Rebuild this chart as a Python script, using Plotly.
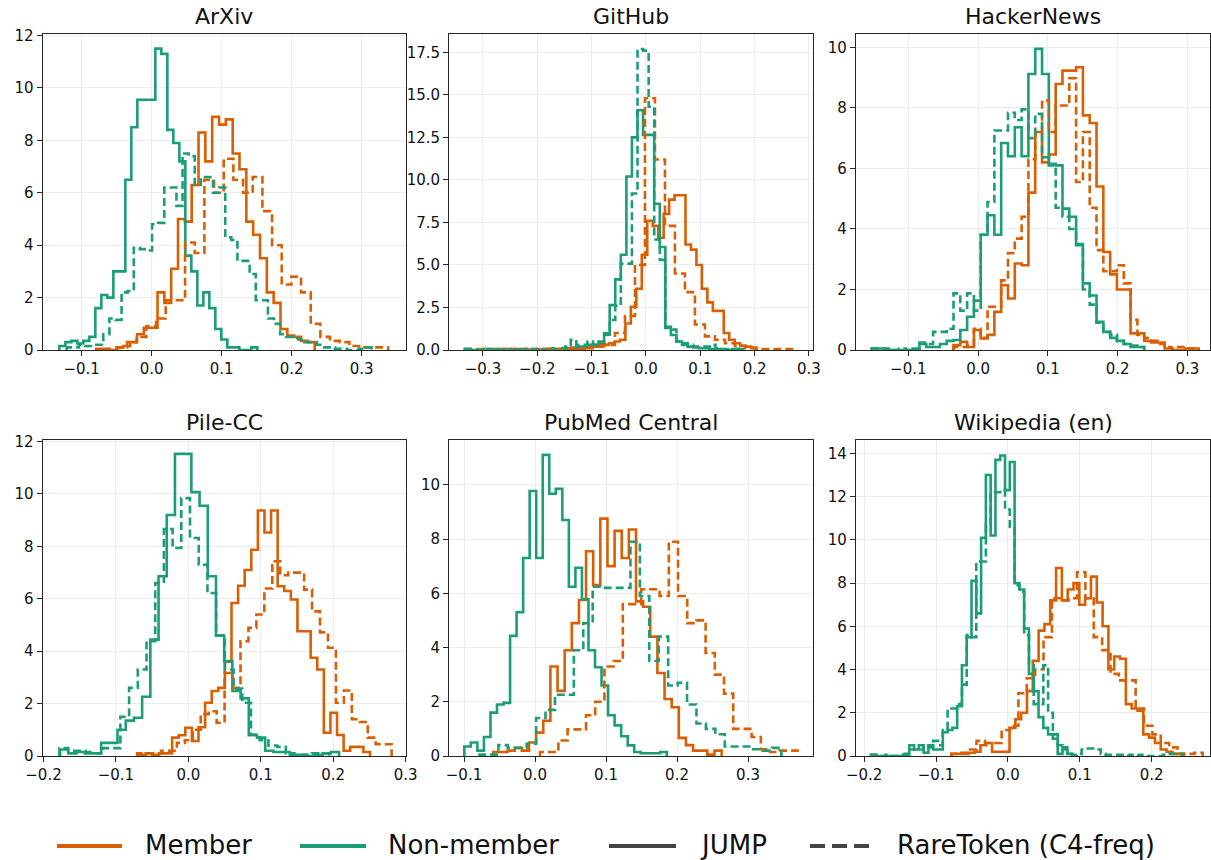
import numpy as np
import plotly.graph_objects as go

MEMBER_COLOR = "#d95f02"
NONMEMBER_COLOR = "#1b9e77"
FONT = "DejaVu Sans"

panel_titles = ["ArXiv", "GitHub", "HackerNews", "Pile-CC", "PubMed Central", "Wikipedia (en)"]

# ---- histogram data: (bin start, bin width) and density per bin ----
# ArXiv
arxiv_jump_member_bins = (-0.0795, 0.00976)
arxiv_jump_member = [0.05, 0.05, 0.0, 0.1, 0.15, 0.3, 0.6, 0.85, 0.85, 2.2, 1.8, 3.1, 5.0, 4.9, 6.3, 8.3,
                     7.2, 8.9, 8.6, 8.8, 7.5, 6.9, 4.9, 4.4, 3.5, 2.2, 1.8, 0.8, 0.55, 0.5, 0.35, 0.3]
arxiv_jump_nonmember_bins = (-0.1319, 0.00857)
arxiv_jump_nonmember = [0.15, 0.3, 0.35, 0.25, 0.35, 0.5, 1.6, 2.1, 2.0, 3.0, 3.0, 6.5, 8.5, 9.55, 9.55,
                        9.55, 11.5, 11.3, 8.4, 7.9, 7.2, 3.6, 3.0, 1.7, 2.2, 1.6, 0.8, 0.4, 0.1, 0.1,
                        0.0, 0.0, 0.1]
arxiv_rare_member_bins = (-0.0490, 0.01381)
arxiv_rare_member = [0.1, 0.3, 0.5, 0.9, 1.2, 1.9, 1.9, 4.1, 3.7, 6.5, 6.0, 7.3, 6.5, 6.0, 6.6, 5.3,
                     4.0, 2.5, 2.8, 2.2, 1.0, 0.5, 0.35, 0.3, 0.15, 0.1, 0.1, 0.1]
arxiv_rare_nonmember_bins = (-0.1214, 0.00871)
arxiv_rare_nonmember = [0.1, 0.1, 0.2, 0.15, 0.2, 0.2, 0.6, 1.2, 1.15, 2.2, 2.25, 3.9, 3.85, 3.8, 4.8,
                        4.85, 6.2, 6.2, 5.5, 7.5, 7.4, 6.3, 6.6, 6.6, 6.0, 6.2, 4.3, 4.2, 3.4, 3.4,
                        2.9, 1.9, 1.9, 1.2, 1.0, 0.6, 0.5, 0.45, 0.4, 0.3, 0.3, 0.2, 0.1, 0.1, 0.05,
                        0.05, 0.0, 0.0, 0.05, 0.1]

# GitHub
github_jump_member_bins = (-0.2994, 0.010061)
github_jump_member = [0.05, 0, 0, 0, 0.05, 0, 0, 0.05, 0, 0, 0, 0.05, 0, 0, 0.05, 0, 0.05, 0.05, 0.1, 0.1,
                      0.2, 0.2, 0.3, 0.4, 0.5, 0.6, 1.56, 2.54, 3.6, 5.6, 7.6, 7.3, 6.6, 8.0, 8.84, 9.1,
                      9.1, 6.2, 5.9, 5.0, 3.6, 2.8, 2.3, 2.3, 1.0, 0.6, 0.4, 0.25, 0.2, 0.15]
github_jump_nonmember_bins = (-0.3331, 0.010245)
github_jump_nonmember = [0.05, 0, 0, 0, 0, 0.05, 0, 0, 0, 0.05, 0, 0, 0.05, 0, 0, 0.05, 0, 0.05,
                         0.1, 0.15, 0.2, 0.2, 0.3, 0.3, 0.4, 0.98, 2.64, 4.15, 5.6, 10.2, 12.5, 14.1,
                         12.65, 12.65, 8.6, 6.06, 1.37, 0.88, 0.5, 0.3, 0.2, 0.15, 0.1, 0.1, 0.05,
                         0.05, 0.0, 0.0, 0.05, 0.05]
github_rare_member_bins = (-0.3331, 0.018405)
github_rare_member = [0.05, 0.05, 0.0, 0.05, 0.05, 0.0, 0.05, 0.05, 0.05, 0.05, 0.1, 0.05, 0.2, 0.3, 0.3,
                      1.0, 2.0, 5.0, 14.8, 11.2, 7.3, 4.5, 3.4, 1.5, 0.8, 0.6, 0.4, 0.25, 0.1, 0.05,
                      0.05, 0.05, 0.05]
github_rare_nonmember_bins = (-0.3331, 0.010245)
github_rare_nonmember = [0.05, 0.05, 0, 0, 0.05, 0, 0, 0.05, 0, 0, 0, 0.05, 0, 0.05, 0, 0.1, 0.05, 0.1,
                         0.2, 0.6, 0.3, 0.3, 0.5, 0.3, 0.5, 0.9, 1.76, 2.6, 5.08, 5.08, 9.2, 17.7,
                         17.6, 14.3, 6.5, 5.3, 1.3, 1.2, 0.5, 0.4, 0.3, 0.2, 0.2, 0.2, 0.3, 0.1,
                         0.05, 0.05, 0.05, 0.05]

# HackerNews
hn_jump_member_bins = (-0.03524, 0.009762)
hn_jump_member = [0.16, 0.27, 0.1, 0.66, 0.38, 0.5, 1.26, 2.14, 1.7, 2.86, 2.8, 5.2, 7.2, 6.2, 6.46,
                  8.79, 9.23, 9.23, 9.34, 7.75, 7.5, 5.4, 3.24, 2.5, 2.0, 2.0, 0.55, 0.55, 0.3,
                  0.25, 0.25, 0.05, 0.0, 0.0, 0.05, 0.05]
hn_jump_nonmember_bins = (-0.15238, 0.009762)
hn_jump_nonmember = [0.05, 0.05, 0.0, 0.0, 0.0, 0.0, 0.0, 0.2, 0.1, 0.1, 0.2, 0.3, 0.33, 0.66, 1.1,
                     1.63, 3.81, 4.45, 3.81, 6.84, 6.4, 7.36, 6.4, 9.12, 9.95, 9.12, 6.15, 6.1,
                     4.67, 4.4, 3.46, 2.2, 1.8, 0.93, 0.6, 0.4, 0.3, 0.2, 0.1, 0.1]
hn_rare_member_bins = (-0.03524, 0.009762)
hn_rare_member = [0.1, 0.1, 0.15, 0.7, 0.4, 1.43, 1.43, 2.3, 3.2, 3.68, 4.4, 6.3, 7.2, 8.24, 7.2,
                  8.08, 8.08, 8.98, 5.55, 7.2, 4.7, 3.3, 2.6, 2.6, 2.8, 2.2, 1.0, 0.5, 0.4, 0.3,
                  0.2, 0.1, 0.05, 0.1, 0.05, 0.05]
hn_rare_nonmember_bins = (-0.15238, 0.009762)
hn_rare_nonmember = [0.05, 0.05, 0.05, 0.0, 0.05, 0.0, 0.05, 0.25, 0.2, 0.6, 0.6, 0.7, 1.87, 1.3,
                     1.87, 1.3, 3.81, 4.89, 7.25, 7.25, 7.84, 7.6, 7.95, 7.0, 7.8, 6.37, 6.1, 4.7,
                     4.4, 4.0, 3.5, 2.0, 1.5, 0.9, 0.6, 0.5, 0.3, 0.2, 0.15, 0.1]

# Pile-CC
pile_jump_member_bins = (-0.06796, 0.009108)
pile_jump_member = [0.05, 0.1, 0.05, 0.1, 0.1, 0.7, 0.79, 1.08, 0.57, 1.1, 2.03, 2.48, 2.6, 3.6, 5.84,
                    6.5, 7.1, 7.87, 9.37, 8.53, 9.37, 6.48, 6.3, 5.97, 4.76, 4.76, 3.75, 3.3, 0.89,
                    1.65, 0.8, 0.2, 0.35, 0.35, 0.15]
pile_jump_nonmember_bins = (-0.17707, 0.011327)
pile_jump_nonmember = [0.25, 0.1, 0.15, 0.1, 0.1, 0.5, 0.5, 1.0, 1.35, 1.46, 2.26, 4.44, 6.86, 9.2,
                       11.53, 11.53, 10.07, 9.55, 6.86, 4.6, 3.62, 2.48, 2.2, 0.79, 0.7, 0.2, 0.15,
                       0.15, 0.05, 0.05, 0.0, 0.05, 0.1, 0.15]
pile_rare_member_bins = (-0.07074, 0.01098)
pile_rare_member = [0.1, 0.1, 0.1, 0.2, 0.2, 0.5, 0.6, 1.0, 1.6, 1.71, 1.27, 3.17, 2.6, 4.38, 4.89,
                    5.4, 6.39, 7.43, 6.9, 7.0, 7.0, 6.35, 5.52, 4.72, 4.13, 2.03, 2.5, 1.4, 1.3, 0.7,
                    0.45, 0.45]
pile_rare_nonmember_bins = (-0.17799, 0.01202)
pile_rare_nonmember = [0.3, 0.2, 0.2, 0.15, 0.1, 0.3, 0.3, 1.5, 2.6, 3.3, 4.38, 6.6, 8.66, 7.94, 9.84,
                       8.32, 7.3, 6.22, 4.6, 3.3, 2.57, 2.03, 0.82, 0.6, 0.4, 0.35, 0.1, 0.05, 0.05,
                       0.1, 0.1]

# PubMed Central
pmc_jump_member_bins = (-0.05869, 0.010047)
pmc_jump_member = [0.15, 0.15, 0.2, 0.3, 0.2, 0.5, 0.86, 1.3, 3.3, 2.4, 3.9, 4.9, 5.75, 7.55, 6.3, 8.75,
                   7.0, 8.3, 7.3, 8.35, 5.7, 5.5, 4.4, 3.06, 2.1, 1.8, 0.67, 0.4, 0.2, 0.2, 0.05, 0.2]
pmc_jump_nonmember_bins = (-0.09953, 0.009202)
pmc_jump_nonmember = [0.35, 0.5, 0.2, 0.7, 1.6, 1.9, 1.96, 4.43, 5.3, 7.3, 9.77, 7.3, 11.1, 9.67, 9.85,
                      8.7, 6.24, 6.94, 5.78, 3.9, 3.27, 2.6, 1.5, 1.13, 0.73, 0.39, 0.15, 0.1, 0.1,
                      0.1, 0.15]
pmc_rare_member_bins = (0.00704, 0.012958)
pmc_rare_member = [0.15, 0.15, 0.57, 0.98, 0.98, 1.5, 2.0, 3.3, 3.5, 5.6, 5.6, 6.15, 6.15, 5.9, 7.9,
                   5.9, 4.9, 5.0, 3.8, 3.0, 2.3, 1.0, 1.0, 0.7, 0.25, 0.15, 0.2, 0.2]
pmc_rare_nonmember_bins = (-0.07817, 0.013286)
pmc_rare_nonmember = [0.05, 0.05, 0.4, 0.3, 0.3, 0.45, 1.4, 1.7, 2.26, 2.26, 3.9, 4.9, 6.24, 6.2, 6.2,
                      6.2, 7.9, 5.9, 3.5, 4.4, 2.6, 2.7, 1.9, 1.2, 1.0, 0.8, 0.35, 0.35, 0.35, 0.25,
                      0.2, 0.3]

# Wikipedia (en)
wiki_jump_member_bins = (-0.07861, 0.008092)
wiki_jump_member = [0.1, 0.1, 0.1, 0.15, 0.2, 0.5, 0.6, 0.2, 0.2, 0.2, 1.3, 1.7, 2.0, 3.0, 4.4, 5.8,
                    6.1, 7.2, 8.7, 7.2, 7.7, 8.0, 7.0, 7.3, 8.3, 7.1, 6.0, 4.0, 4.6, 4.5, 2.4, 2.2,
                    2.1, 1.0, 0.85, 0.6, 0.3, 0.2, 0.1, 0.1]
wiki_jump_nonmember_bins = (-0.19043, 0.006659)
wiki_jump_nonmember = [0.05, 0, 0, 0, 0, 0, 0, 0.05, 0.5, 0.3, 0.5, 0.15, 0.5, 0.3, 0.3, 1.1, 1.2, 1.3,
                       2.3, 4.2, 5.5, 8.1, 6.6, 10.1, 13.0, 10.2, 13.7, 13.9, 12.3, 13.6, 8.0, 7.7,
                       5.9, 3.8, 3.0, 1.8, 1.3, 1.0, 0.8, 0.1, 0.4, 0.1]
wiki_rare_member_bins = (-0.07861, 0.011653)
wiki_rare_member = [0.1, 0.15, 0.3, 0.7, 0.6, 0.6, 1.2, 1.4, 2.9, 3.6, 4.0, 5.5, 7.3, 7.2, 7.3, 8.5,
                    7.3, 5.5, 4.9, 3.8, 3.5, 3.5, 2.2, 1.4, 1.0, 0.6, 0.4, 0.1, 0.1, 0.15]
wiki_rare_nonmember_bins = (-0.19043, 0.006659)
wiki_rare_nonmember = [0.05, 0.05, 0, 0.05, 0, 0, 0.05, 0.1, 0.3, 0.3, 0.3, 0.5, 0.4, 0.7, 0.5, 1.2,
                       2.2, 2.2, 2.4, 3.3, 5.6, 5.5, 9.0, 9.0, 10.7, 12.2, 12.2, 12.3, 11.4, 10.6,
                       7.9, 7.6, 5.6, 4.2, 2.4, 2.4, 4.2, 2.0, 1.0, 0.5, 0.3, 0.1, 0.05, 0.1, 0.3,
                       0.35, 0.35, 0.3, 0.1, 0.05, 0.05, 0.05, 0.05, 0, 0.05, 0, 0.05, 0, 0, 0, 0,
                       0.05, 0.1, 0.1, 0.1]

# axis ranges and ticks per panel
x_ranges = [(-0.1557, 0.3633), (-0.362, 0.307), (-0.175, 0.3324),
            (-0.2011, 0.3005), (-0.1207, 0.3911), (-0.2113, 0.2812)]
y_ranges = [(0, 12.06), (0, 18.58), (0, 10.44), (0, 12.06), (0, 11.65), (0, 14.62)]
y_dticks = [2, 2.5, 2, 2, 2, 2]
y_formats = ["d", ".1f", "d", "d", "d", "d"]

panels = [
    [(arxiv_jump_member_bins, arxiv_jump_member, "member", "solid"),
     (arxiv_jump_nonmember_bins, arxiv_jump_nonmember, "non", "solid"),
     (arxiv_rare_member_bins, arxiv_rare_member, "member", "dash"),
     (arxiv_rare_nonmember_bins, arxiv_rare_nonmember, "non", "dash")],
    [(github_jump_member_bins, github_jump_member, "member", "solid"),
     (github_jump_nonmember_bins, github_jump_nonmember, "non", "solid"),
     (github_rare_member_bins, github_rare_member, "member", "dash"),
     (github_rare_nonmember_bins, github_rare_nonmember, "non", "dash")],
    [(hn_jump_member_bins, hn_jump_member, "member", "solid"),
     (hn_jump_nonmember_bins, hn_jump_nonmember, "non", "solid"),
     (hn_rare_member_bins, hn_rare_member, "member", "dash"),
     (hn_rare_nonmember_bins, hn_rare_nonmember, "non", "dash")],
    [(pile_jump_member_bins, pile_jump_member, "member", "solid"),
     (pile_jump_nonmember_bins, pile_jump_nonmember, "non", "solid"),
     (pile_rare_member_bins, pile_rare_member, "member", "dash"),
     (pile_rare_nonmember_bins, pile_rare_nonmember, "non", "dash")],
    [(pmc_jump_member_bins, pmc_jump_member, "member", "solid"),
     (pmc_jump_nonmember_bins, pmc_jump_nonmember, "non", "solid"),
     (pmc_rare_member_bins, pmc_rare_member, "member", "dash"),
     (pmc_rare_nonmember_bins, pmc_rare_nonmember, "non", "dash")],
    [(wiki_jump_member_bins, wiki_jump_member, "member", "solid"),
     (wiki_jump_nonmember_bins, wiki_jump_nonmember, "non", "solid"),
     (wiki_rare_member_bins, wiki_rare_member, "member", "dash"),
     (wiki_rare_nonmember_bins, wiki_rare_nonmember, "non", "dash")],
]

W, H = 1211, 860
col_px = [(42.7, 406.0), (449.3, 812.7), (856.0, 1210.0)]
row_px = [(34.0, 350.0), (440.0, 756.0)]


def step_xy(bins, heights):
    start, width = bins
    h = np.asarray(heights, dtype=float)
    edges = start + width * np.arange(len(h) + 1)
    x = np.concatenate([[edges[0]], edges[:-1], [edges[-1]]])
    y = np.concatenate([[0.0], h, [0.0]])
    return x, y


fig = go.Figure()
layout_axes = {}
annotations = []
for i, series in enumerate(panels):
    r, c = divmod(i, 3)
    xa = "x" if i == 0 else f"x{i + 1}"
    ya = "y" if i == 0 else f"y{i + 1}"
    for bins, heights, kind, dash in series:
        x, y = step_xy(bins, heights)
        fig.add_trace(go.Scatter(
            x=x, y=y, mode="lines", line_shape="hv",
            line=dict(color=MEMBER_COLOR if kind == "member" else NONMEMBER_COLOR,
                      width=2.6, dash="solid" if dash == "solid" else "8px,4px"),
            xaxis=xa, yaxis=ya, showlegend=False, hoverinfo="skip"))
    x0, x1 = col_px[c]
    y0, y1 = row_px[r]
    xdom = [x0 / W, x1 / W]
    ydom = [1 - y1 / H, 1 - y0 / H]
    common = dict(showline=True, mirror=True, linecolor="#262626", linewidth=1.3,
                  ticks="outside", ticklen=5, tickwidth=1.2, tickcolor="#262626",
                  showgrid=True, gridcolor="#ececec", gridwidth=1, zeroline=False,
                  automargin=False,
                  tickfont=dict(family=FONT, size=15, color="#111111"))
    layout_axes["xaxis" if i == 0 else f"xaxis{i + 1}"] = dict(
        domain=xdom, range=list(x_ranges[i]), anchor=ya, dtick=0.1, tick0=0,
        tickformat=".1f", **common)
    layout_axes["yaxis" if i == 0 else f"yaxis{i + 1}"] = dict(
        domain=ydom, range=list(y_ranges[i]), anchor=xa, dtick=y_dticks[i], tick0=0,
        tickformat=y_formats[i], **common)
    annotations.append(dict(
        text=panel_titles[i], x=(xdom[0] + xdom[1]) / 2, y=ydom[1], xref="paper", yref="paper",
        xanchor="center", yanchor="bottom", yshift=3, showarrow=False,
        font=dict(family=FONT, size=22, color="#111111")))

# legend (drawn at the bottom, as in the reference)
legend_y = 1 - 846 / H
legend_items = [
    ("Member", MEMBER_COLOR, "solid", 57, 122, 143),
    ("Non-member", NONMEMBER_COLOR, "solid", 300, 366, 386),
    ("JUMP", "#444444", "solid", 609, 676, 698),
    ("RareToken (C4-freq)", "#444444", "15px,7px", 810, 872, 895),
]
shapes = []
for label, color, dash, lx0, lx1, tx in legend_items:
    shapes.append(dict(type="line", xref="paper", yref="paper",
                       x0=lx0 / W, x1=lx1 / W, y0=legend_y, y1=legend_y,
                       line=dict(color=color, width=4.2, dash=dash)))
    annotations.append(dict(text=label, x=tx / W, y=legend_y, xref="paper", yref="paper",
                            xanchor="left", yanchor="middle", showarrow=False, yshift=1,
                            font=dict(family=FONT, size=26, color="#111111")))

fig.update_layout(
    width=W, height=H, margin=dict(l=0, r=0, t=0, b=0, autoexpand=False),
    paper_bgcolor="white", plot_bgcolor="white",
    showlegend=False, annotations=annotations, shapes=shapes,
    **layout_axes)

fig.write_html(
    "out.html",
    config={"displayModeBar": False},
    post_script="document.body.style.margin='0px';document.body.style.overflow='hidden';",
)
